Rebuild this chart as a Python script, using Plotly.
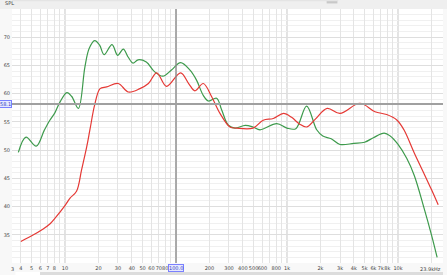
import plotly.graph_objects as go

# ---- data ----
green_freq = [3.8, 4.45, 5.5, 6.5, 7.3, 8.1, 9.0, 10.4, 11.5, 13.2, 15.1, 16.5, 18.5, 20.5, 22.5,
              26.5, 29.8, 33.5, 37, 41, 45.5, 54, 64, 76, 91, 110, 133, 153, 176, 196, 232, 258,
              296, 340, 420, 494, 571, 808, 1000, 1200, 1500, 1850, 2100, 2500, 3000, 4000, 5000,
              6000, 7500, 8500, 10000, 12000, 14000, 17000, 20000, 22500]
green_db = [49.6, 52.3, 50.7, 53.5, 55.3, 56.6, 58.5, 60.2, 59.5, 57.4, 64.7, 68.0, 69.4, 68.6, 66.9,
            68.7, 66.8, 67.9, 66.5, 65.4, 66.0, 65.6, 63.9, 63.1, 64.2, 65.5, 64.2, 62.4, 59.7, 58.7, 59.2, 57.1,
            54.4, 53.9, 54.4, 54.1, 53.6, 54.7, 53.9, 53.8, 57.8, 53.6, 52.5, 52.0, 51.0, 51.2, 51.4,
            52.2, 53.0, 52.5, 51.0, 48.5, 45.5, 40.0, 35.0, 31.0]

red_freq = [4.0, 5.2, 6.2, 7.3, 8.1, 10.1, 11.1, 12.7, 14.1, 15.7, 16.8, 18.5, 20.7, 23.7, 30.2,
            37.2, 47.3, 56.4, 67, 82, 110, 130, 148, 176, 209, 249, 306, 352, 494, 610, 752, 930,
            1100, 1300, 1500, 1800, 2300, 3000, 4540, 6200, 7900, 9800, 11300, 14000, 17000, 20000, 23000]
red_db = [33.8, 35.0, 35.9, 36.9, 37.9, 40.3, 41.5, 42.7, 46.5, 50.6, 53.7, 58.0, 60.9, 61.2, 61.8,
          60.3, 60.9, 61.8, 63.7, 61.3, 63.7, 61.8, 60.5, 61.8, 59.5, 56.5, 54.1, 53.9, 53.9, 55.3, 55.6, 56.5,
          55.8, 54.6, 54.1, 55.5, 57.4, 56.5, 58.3, 56.8, 56.3, 55.3, 53.6, 49.5, 46.0, 43.0, 40.3]

grid_freqs = [4, 5, 6, 7, 8, 9, 10, 20, 30, 40, 50, 60, 70, 80, 90, 100, 200, 300, 400, 500, 600,
              700, 800, 900, 1000, 2000, 3000, 4000, 5000, 6000, 7000, 8000, 9000, 10000, 20000]
grid_labels = ["4", "5", "6", "7", "8", "", "10", "20", "30", "40", "50", "60", "70", "80", "", "",
               "200", "300", "400", "500", "600", "", "800", "", "1k", "2k", "3k", "4k", "5k", "6k",
               "7k", "8k", "", "10k", ""]
decade_freqs = [10, 100, 1000, 10000]
y_ticks = [35, 40, 45, 50, 55, 60, 65, 70]
cursor_freq = 100
cursor_db = 58.17
cursor_freq_label = "100.0"
cursor_db_label = "58.1"
end_label = "23.9kHz"

X_MIN_LOG = 0.5225
X_MAX_LOG = 4.405
FONT = "DejaVu Sans"
TXT = "#444"

fig = go.Figure()
fig.add_trace(go.Scatter(x=green_freq, y=green_db, mode="lines",
                         line=dict(color="#3d9a4c", width=1.2, shape="spline", smoothing=1.0),
                         showlegend=False, hoverinfo="skip"))
fig.add_trace(go.Scatter(x=red_freq, y=red_db, mode="lines",
                         line=dict(color="#e53935", width=1.2, shape="spline", smoothing=1.0),
                         showlegend=False, hoverinfo="skip"))

shapes = []
for f in decade_freqs:
    shapes.append(dict(type="line", xref="x", yref="paper", x0=f, x1=f, y0=0, y1=1,
                       line=dict(color="#c4c4c4", width=1), layer="below"))
shapes.append(dict(type="line", xref="x", yref="paper", x0=cursor_freq, x1=cursor_freq, y0=0, y1=1,
                   line=dict(color="#8a8a8a", width=1.3), layer="above"))
shapes.append(dict(type="line", xref="paper", yref="y", x0=0, x1=1, y0=cursor_db, y1=cursor_db,
                   line=dict(color="#a0a0a0", width=2), layer="above"))
shapes.append(dict(type="rect", xref="paper", yref="paper", x0=-0.03, x1=1.01, y0=1.0, y1=1.04,
                   fillcolor="#efefef", line=dict(width=0), layer="below"))
shapes.append(dict(type="rect", xref="paper", yref="paper", x0=0.73, x1=0.755, y0=1.022, y1=1.036,
                   fillcolor="#c8c8c8", line=dict(width=0)))
shapes.append(dict(type="rect", xref="paper", yref="paper", x0=0.0, x1=0.757, y0=1.031, y1=1.036,
                   fillcolor="#e4e4e4", line=dict(width=0)))
shapes.append(dict(type="rect", xref="paper", yref="paper", x0=0.065, x1=1.0, y0=-0.05, y1=-0.035,
                   fillcolor="#dcdcdc", line=dict(width=0)))
shapes.append(dict(type="rect", xref="paper", yref="paper", x0=0.008, x1=0.065, y0=-0.05, y1=-0.035,
                   fillcolor="#ffffff", line=dict(width=0)))

annotations = [
    dict(text="SPL", xref="paper", yref="paper", x=-0.02, y=1.005, xanchor="left", yanchor="bottom",
         showarrow=False, font=dict(size=5, color=TXT, family=FONT)),
    dict(text="3", xref="paper", yref="paper", x=0.0, y=0, yshift=-1, xanchor="center", yanchor="top",
         showarrow=False, font=dict(size=5, color=TXT, family=FONT)),
    dict(text=end_label, xref="paper", yref="paper", x=1.0, y=0, yshift=-1, xanchor="right", yanchor="top",
         showarrow=False, font=dict(size=5, color=TXT, family=FONT)),
    dict(text=cursor_freq_label, xref="x", yref="paper", x=2.0, y=0, yshift=-1, xanchor="center", yanchor="top",
         showarrow=False, font=dict(size=5, color="#3040c0", family=FONT),
         bgcolor="#e6e8ff", bordercolor="#7a80ff", borderwidth=1, borderpad=0),
    dict(text=cursor_db_label, xref="paper", yref="y", x=0.0, y=cursor_db, xanchor="right", yanchor="middle",
         showarrow=False, font=dict(size=5, color="#3040c0", family=FONT),
         bgcolor="#e6e8ff", bordercolor="#7a80ff", borderwidth=1, borderpad=0),
]

fig.update_layout(
    width=447, height=275,
    margin=dict(l=12, r=4, t=9, b=12),
    paper_bgcolor="#f8f8f8",
    plot_bgcolor="#ffffff",
    shapes=shapes,
    annotations=annotations,
    xaxis=dict(type="log", range=[X_MIN_LOG, X_MAX_LOG], tickvals=grid_freqs, ticktext=grid_labels,
               tickangle=0, showgrid=True, gridcolor="#e4e4e4", gridwidth=1, zeroline=False, ticks="",
               tickfont=dict(size=5, color=TXT, family=FONT), ticklabelstandoff=1,
               showline=False, fixedrange=True),
    yaxis=dict(range=[30, 75], tickvals=y_ticks, showgrid=True, gridcolor="#dedede", gridwidth=1,
               minor=dict(dtick=1, showgrid=True, gridcolor="#f0f0f0", gridwidth=1),
               zeroline=False, ticks="", tickfont=dict(size=5, color=TXT, family=FONT),
               ticklabelstandoff=1, showline=False, fixedrange=True),
)

fig.write_html("out.html")
